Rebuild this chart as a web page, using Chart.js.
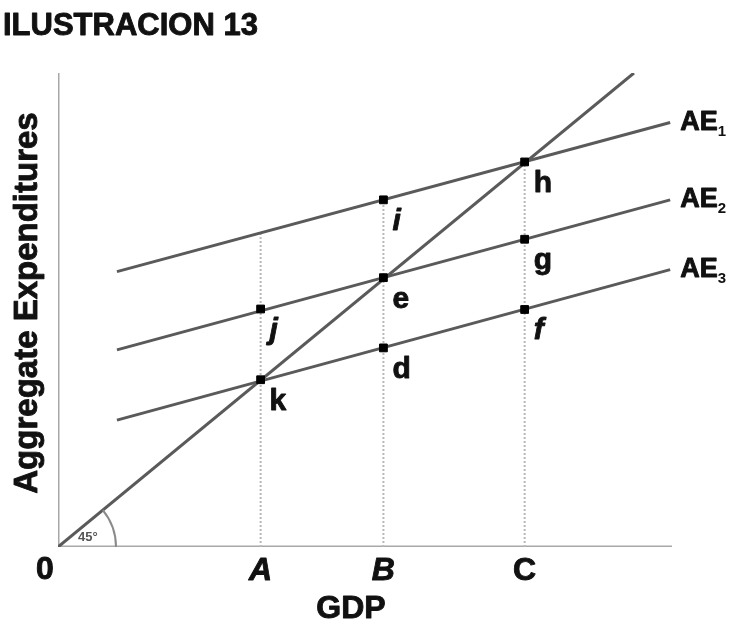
<!DOCTYPE html>
<html>
<head>
<meta charset="utf-8">
<script src="https://cdn.jsdelivr.net/npm/chart.js@4.4.0/dist/chart.umd.min.js"></script>
<style>
  html, body { margin: 0; padding: 0; background: #fff; }
  #wrap { position: relative; width: 740px; height: 634px; }
</style>
</head>
<body>
<div id="wrap"><canvas id="c"></canvas></div>
<script>
const titleText = 'ILUSTRACION 13';
const xTitle = 'GDP';
const yTitle = 'Aggregate Expenditures';

// GDP levels marked on the x axis
const gdpValues = [33, 53, 76];
const gdpLabels = ['A', 'B', 'C'];

// aggregate expenditure lines (start, end)
const aeNames = ['AE1', 'AE2', 'AE3'];
const aeX = [9.6, 99.7];
const ae1Y = [54.5, 84.0];
const ae2Y = [39.0, 68.7];
const ae3Y = [25.1, 54.9];

// 45 degree line
const line45 = [0, 93.8];

// labelled points
const pointNames = ['k', 'j', 'e', 'i', 'd', 'h', 'g', 'f'];
const pointX = [33, 33, 53, 53, 53, 76, 76, 76];
const pointY = [33.1, 47.1, 53.3, 68.7, 39.4, 76.2, 60.9, 47.0];

// height of the dotted drop lines at A, B, C
const dropTops = [62.2, 68.7, 76.2];

const xMax = 100, yMax = 93.8;

const seg = (xs, ys) => xs.map((x, i) => ({ x, y: ys[i] }));
const lineStyle = { showLine: true, borderColor: '#5a5a5a', borderWidth: 3, pointRadius: 0, fill: false };

const datasets = [
  {
    label: 'points',
    data: seg(pointX, pointY),
    pointStyle: 'rect', pointRadius: 5.5, backgroundColor: '#000', borderColor: '#000', showLine: false,
  },
  { label: aeNames[0], data: seg(aeX, ae1Y), ...lineStyle },
  { label: aeNames[1], data: seg(aeX, ae2Y), ...lineStyle },
  { label: aeNames[2], data: seg(aeX, ae3Y), ...lineStyle },
  { label: '45', data: seg(line45, line45), ...lineStyle },
  ...gdpValues.map((g, i) => ({
    label: 'drop ' + gdpLabels[i],
    data: seg([g, g], [0, dropTops[i]]),
    showLine: true, borderColor: '#b8b8b8', borderWidth: 2, borderDash: [2, 2], pointRadius: 0,
  })),
  { label: 'xaxis', data: seg([0, xMax], [0, 0]), showLine: true, borderColor: '#a8a8a8', borderWidth: 3, pointRadius: 0 },
  { label: 'yaxis', data: seg([0, 0], [0, yMax]), showLine: true, borderColor: '#a8a8a8', borderWidth: 3, pointRadius: 0 },
];

const font = (size, style) => `${style || ''} bold ${size}px "Liberation Sans", Arial, sans-serif`;

// filled text with a thin outline so it looks as heavy as the scanned original
function heavyText(ctx, s, x, y) {
  ctx.fillText(s, x, y);
  ctx.strokeText(s, x, y);
}

const textPlugin = {
  id: 'texts',
  afterDatasetsDraw(chart) {
    const { ctx } = chart;
    const xs = chart.scales.x, ys = chart.scales.y;
    ctx.save();
    ctx.fillStyle = '#111';
    ctx.strokeStyle = '#111';
    ctx.lineWidth = 0.9;
    ctx.lineJoin = 'round';

    // title
    ctx.font = font(31);
    ctx.textAlign = 'left';
    ctx.textBaseline = 'alphabetic';
    heavyText(ctx, titleText, 3, 35);

    // 45 degree arc
    const ox = xs.getPixelForValue(0), oy = ys.getPixelForValue(0);
    const ex = xs.getPixelForValue(line45[1]), ey = ys.getPixelForValue(line45[1]);
    const ang = Math.atan2(ey - oy, ex - ox);
    ctx.save();
    ctx.strokeStyle = '#8a8a8a';
    ctx.lineWidth = 2;
    ctx.beginPath();
    ctx.arc(ox, oy, 58, ang, 0);
    ctx.stroke();
    ctx.font = font(13);
    ctx.fillStyle = '#555';
    ctx.fillText('45°', ox + 20, oy - 6);
    ctx.restore();

    // point letters
    pointNames.forEach((n, i) => {
      const italic = ['i', 'j', 'f'].includes(n);
      ctx.font = font(30, italic ? 'italic' : '');
      heavyText(ctx, n, xs.getPixelForValue(pointX[i]) + 9, ys.getPixelForValue(pointY[i]) + 30);
    });

    // AE labels with subscripts
    const aeEnds = [ae1Y[1], ae2Y[1], ae3Y[1]];
    aeNames.forEach((n, i) => {
      const px = xs.getPixelForValue(aeX[1]) + 10;
      const py = ys.getPixelForValue(aeEnds[i]) + 7;
      ctx.font = font(27);
      heavyText(ctx, n.slice(0, 2), px, py);
      const w = ctx.measureText(n.slice(0, 2)).width;
      ctx.font = font(15);
      ctx.fillText(n.slice(2), px + w, py + 6);
    });

    // x axis tick labels
    ctx.textAlign = 'center';
    ctx.font = font(32);
    heavyText(ctx, '0', ox - 13, oy + 32);
    gdpValues.forEach((g, i) => {
      ctx.font = font(32, gdpLabels[i] === 'C' ? '' : 'italic');
      heavyText(ctx, gdpLabels[i], xs.getPixelForValue(g), oy + 33);
    });

    // axis titles
    ctx.font = font(32);
    heavyText(ctx, xTitle, 351, 618);
    ctx.save();
    ctx.translate(37, 303);
    ctx.rotate(-Math.PI / 2);
    ctx.font = font(33);
    heavyText(ctx, yTitle, 0, 0);
    ctx.restore();

    ctx.restore();
  },
};

new Chart(document.getElementById('c'), {
  type: 'scatter',
  data: { datasets },
  options: {
    responsive: true,
    maintainAspectRatio: false,
    animation: false,
    layout: { padding: { left: 58, right: 68, top: 73, bottom: 87 } },
    scales: {
      x: { type: 'linear', min: 0, max: xMax, display: false },
      y: { type: 'linear', min: 0, max: yMax, display: false },
    },
    plugins: { legend: { display: false }, tooltip: { enabled: false } },
  },
  plugins: [textPlugin],
});
</script>
</body>
</html>
